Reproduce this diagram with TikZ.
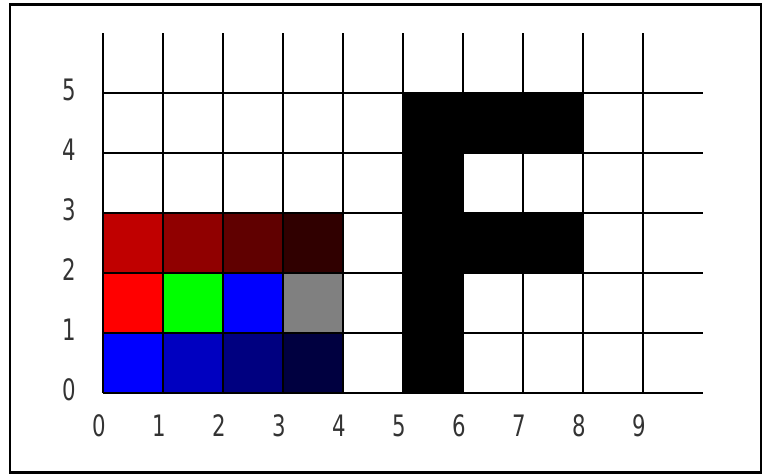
\documentclass[tikz,border=0pt]{standalone}
\usepackage{fontspec}
\setmainfont[FakeStretch=0.72]{DejaVu Sans}
\usepackage{tikz}
\usetikzlibrary{positioning}
\definecolor{pixRedA}{HTML}{C00000}
\definecolor{pixRedB}{HTML}{900000}
\definecolor{pixRedC}{HTML}{600000}
\definecolor{pixRedD}{HTML}{300000}
\definecolor{pixBlueA}{HTML}{0000FF}
\definecolor{pixBlueB}{HTML}{0000C0}
\definecolor{pixBlueC}{HTML}{000080}
\definecolor{pixBlueD}{HTML}{000040}
\definecolor{pixGray}{HTML}{808080}

\begin{document}
\begin{tikzpicture}[
  every node/.style={font=\fontsize{14}{16}\selectfont},
  pixel/.style={fill=#1, draw=none},
  gridline/.style={black, line width=0.9pt},
  ticklabel/.style={inner sep=0pt, text=black!80},
]
\useasboundingbox (-1.717,-1.383) rectangle (11.017,6.55);

% === FRAME ===
\draw[line width=1.4pt] (-1.55,-1.333) rectangle (10.967,6.467);

% === COLOURED PIXELS ===
\foreach \c [count=\i from 0] in {pixRedA,pixRedB,pixRedC,pixRedD} {
  \fill[pixel=\c] (\i,2) rectangle ++(1,1);
}
\foreach \c [count=\i from 0] in {red,green,blue,pixGray} {
  \fill[pixel=\c] (\i,1) rectangle ++(1,1);
}
\foreach \c [count=\i from 0] in {pixBlueA,pixBlueB,pixBlueC,pixBlueD} {
  \fill[pixel=\c] (\i,0) rectangle ++(1,1);
}

% === LETTER F ===
\fill[pixel=black] (5,0) rectangle (6,5);
\fill[pixel=black] (6,4) rectangle (8,5);
\fill[pixel=black] (6,2) rectangle (8,3);

% === GRID ===
\foreach \x in {0,...,9} {
  \draw[gridline] (\x,0) -- (\x,6);
}
\foreach \y in {0,...,5} {
  \draw[gridline] (0,\y) -- (10,\y);
}

% === AXIS LABELS ===
\foreach \x in {0,...,9} {
  \node[ticklabel] (xl-\x) at (\x-0.06,-0.55) {\x};
}
\foreach \y in {0,...,5} {
  \node[ticklabel] (yl-\y) at (-0.56,\y+0.05) {\y};
}

\end{tikzpicture}
\end{document}
